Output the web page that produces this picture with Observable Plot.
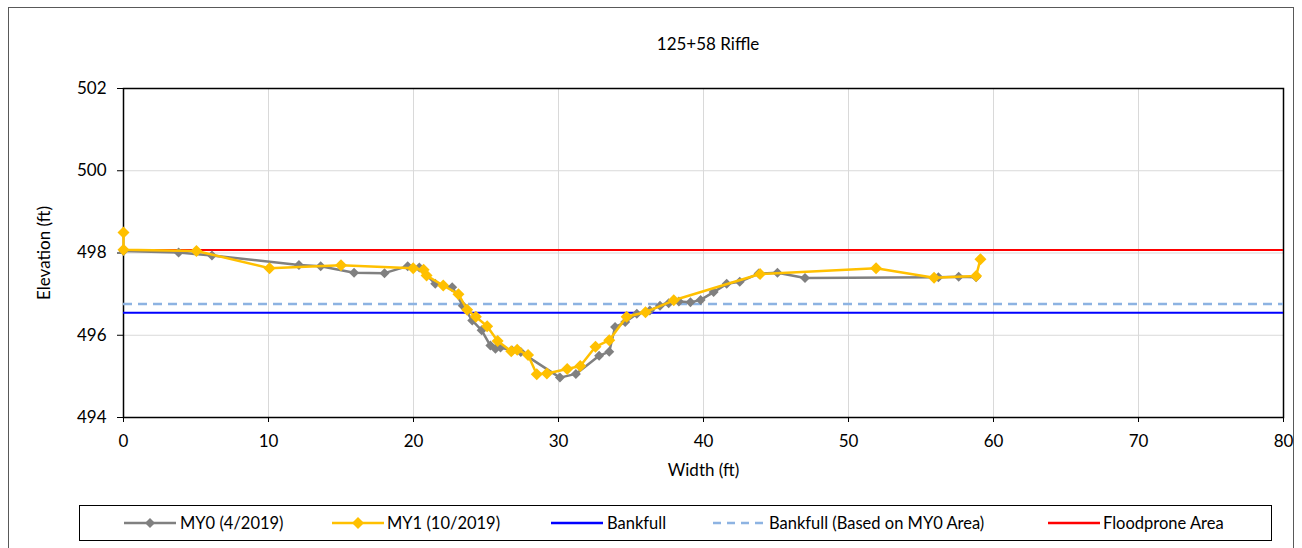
<!DOCTYPE html>
<html>
<head>
<meta charset="utf-8">
<script src="https://cdn.jsdelivr.net/npm/d3@7"></script>
<script src="https://cdn.jsdelivr.net/npm/@observablehq/plot@0.6"></script>
<style>
  html, body { margin: 0; padding: 0; background: #fff; overflow: hidden; }
  #wrap { position: relative; width: 1302px; height: 548px; font-family: Lato, "Open Sans", sans-serif; color: #000; }
  #outer { position: absolute; left: 8px; top: 7px; width: 1286px; height: 600px; border: 1px solid #595959; box-sizing: border-box; }
  #title { position: absolute; left: 508px; width: 400px; top: 33px; text-align: center; font-size: 17px; }
  #chart { position: absolute; left: 0; top: 0; }
  #legend { position: absolute; left: 79px; top: 505px; width: 1193px; height: 36px; border: 1px solid #000; box-sizing: border-box; background: #fff; }
  .item { position: absolute; top: 0; height: 34px; font-size: 16.5px; line-height: 34px; white-space: nowrap; }
  .item svg { position: absolute; top: 10px; }
</style>
</head>
<body>
<div id="wrap">
  <div id="outer"></div>
  <div id="title">125+58 Riffle</div>
  <div id="chart"></div>
  <div id="legend"></div>
</div>
<script>
// ---- Data ----
const xTicks = [0, 10, 20, 30, 40, 50, 60, 70, 80];
const yTicks = [494, 496, 498, 500, 502];

const my0X = [0, 3.8, 6.1, 12.1, 13.6, 15.9, 18.0, 19.6, 20.4, 21.5, 22.67, 23.4, 24.05, 24.7, 25.3, 25.65, 26.0, 26.8, 27.4, 30.1, 31.2, 32.8, 33.5, 33.9, 34.6, 35.4, 36.3, 37.0, 37.6, 38.3, 39.1, 39.8, 40.7, 41.6, 42.5, 43.8, 45.1, 47.0, 56.2, 57.6, 58.8];
const my0Y = [498.05, 498.01, 497.94, 497.71, 497.68, 497.52, 497.51, 497.68, 497.65, 497.25, 497.17, 496.72, 496.36, 496.12, 495.75, 495.67, 495.70, 495.63, 495.59, 494.97, 495.06, 495.50, 495.60, 496.20, 496.32, 496.52, 496.60, 496.72, 496.78, 496.82, 496.80, 496.86, 497.05, 497.25, 497.30, 497.50, 497.52, 497.39, 497.41, 497.42, 497.41];

const my1X = [0, 0, 5.03, 10.07, 15.0, 19.98, 20.7, 20.9, 22.05, 23.1, 23.7, 24.3, 25.08, 25.8, 26.74, 27.15, 27.9, 28.5, 29.2, 30.6, 31.5, 32.55, 33.5, 34.7, 36.0, 37.95, 43.9, 51.9, 55.9, 58.8, 59.1];
const my1Y = [498.5, 498.08, 498.05, 497.63, 497.70, 497.63, 497.59, 497.45, 497.21, 497.00, 496.62, 496.45, 496.22, 495.86, 495.61, 495.65, 495.52, 495.05, 495.07, 495.18, 495.25, 495.72, 495.88, 496.45, 496.56, 496.85, 497.49, 497.63, 497.40, 497.44, 497.85];

const bankfull = 496.55;
const bankfullMY0 = 496.76;
const floodprone = 498.07;

const seriesNames = ["MY0 (4/2019)", "MY1 (10/2019)", "Bankfull", "Bankfull (Based on MY0 Area)", "Floodprone Area"];
const seriesColors = ["#808080", "#FFC000", "#0000FF", "#8DB3E2", "#FF0000"];

// ---- Build tables ----
const my0 = my0X.map((x, i) => ({x, y: my0Y[i]}));
const my1 = my1X.map((x, i) => ({x, y: my1Y[i]}));

const diamond = {
  draw(ctx, size) {
    const r = Math.sqrt(size / Math.PI);
    ctx.moveTo(0, -r); ctx.lineTo(r, 0); ctx.lineTo(0, r); ctx.lineTo(-r, 0); ctx.closePath();
  }
};

const chart = Plot.plot({
  width: 1302,
  height: 500,
  marginLeft: 123,
  marginRight: 19,
  marginTop: 88,
  marginBottom: 83,
  style: { fontFamily: "Lato, 'Open Sans', sans-serif", fontSize: "17px", color: "#000", background: "transparent", overflow: "visible" },
  x: { domain: [0, 80], ticks: xTicks },
  y: { domain: [494, 502], ticks: yTicks },
  marks: [
    Plot.gridX(xTicks, { stroke: "#d9d9d9", strokeOpacity: 1, strokeWidth: 1 }),
    Plot.gridY(yTicks, { stroke: "#d9d9d9", strokeOpacity: 1, strokeWidth: 1 }),
    Plot.axisX(xTicks, { tickSize: 5, tickPadding: 12, label: null, fontSize: 17 }),
    Plot.axisX({ ticks: [], tickSize: 0, label: "Width (ft)", labelAnchor: "center", labelArrow: "none", labelOffset: 58, fontSize: 17 }),
    Plot.axisY(yTicks, { tickSize: 6, tickPadding: 11, label: null, fontSize: 17 }),
    Plot.axisY({ ticks: [], tickSize: 0, label: "Elevation (ft)", labelAnchor: "center", labelArrow: "none", labelOffset: 86, fontSize: 17 }),
    Plot.frame({ stroke: "#000", strokeWidth: 1.5 }),
    Plot.ruleY([bankfull], { stroke: seriesColors[2], strokeWidth: 2 }),
    Plot.ruleY([bankfullMY0], { stroke: seriesColors[3], strokeWidth: 2.5, strokeDasharray: "9,6" }),
    Plot.ruleY([floodprone], { stroke: seriesColors[4], strokeWidth: 2 }),
    Plot.line(my0, { x: "x", y: "y", stroke: seriesColors[0], strokeWidth: 2.5 }),
    Plot.dot(my0, { x: "x", y: "y", symbol: diamond, r: 5, fill: seriesColors[0], stroke: "none" }),
    Plot.line(my1, { x: "x", y: "y", stroke: seriesColors[1], strokeWidth: 2.5 }),
    Plot.dot(my1, { x: "x", y: "y", symbol: diamond, r: 6, fill: seriesColors[1], stroke: "none" })
  ]
});
document.getElementById("chart").appendChild(chart);

// ---- Legend ----
const legend = document.getElementById("legend");
const swatchLeft = [123, 331, 550, 712, 1047];
const textLeft = [179, 386, 606, 768, 1102];
seriesNames.forEach((name, i) => {
  const sw = document.createElementNS("http://www.w3.org/2000/svg", "svg");
  sw.setAttribute("width", 52); sw.setAttribute("height", 14);
  sw.style.left = (swatchLeft[i] - 79) + "px";
  const ln = document.createElementNS("http://www.w3.org/2000/svg", "line");
  ln.setAttribute("x1", 0); ln.setAttribute("x2", 52); ln.setAttribute("y1", 7); ln.setAttribute("y2", 7);
  ln.setAttribute("stroke", seriesColors[i]);
  ln.setAttribute("stroke-width", 2.5);
  if (i === 3) ln.setAttribute("stroke-dasharray", "8,6");
  sw.appendChild(ln);
  if (i < 2) {
    const d = document.createElementNS("http://www.w3.org/2000/svg", "path");
    const r = i === 0 ? 5 : 6;
    d.setAttribute("d", `M26,${7 - r}L${26 + r},7L26,${7 + r}L${26 - r},7Z`);
    d.setAttribute("fill", seriesColors[i]);
    sw.appendChild(d);
  }
  const item = document.createElement("div");
  item.className = "item";
  item.style.left = "0px";
  item.appendChild(sw);
  const t = document.createElement("span");
  t.textContent = name;
  t.style.position = "absolute";
  t.style.left = (textLeft[i] - 79) + "px";
  item.appendChild(t);
  legend.appendChild(item);
});
</script>
</body>
</html>
